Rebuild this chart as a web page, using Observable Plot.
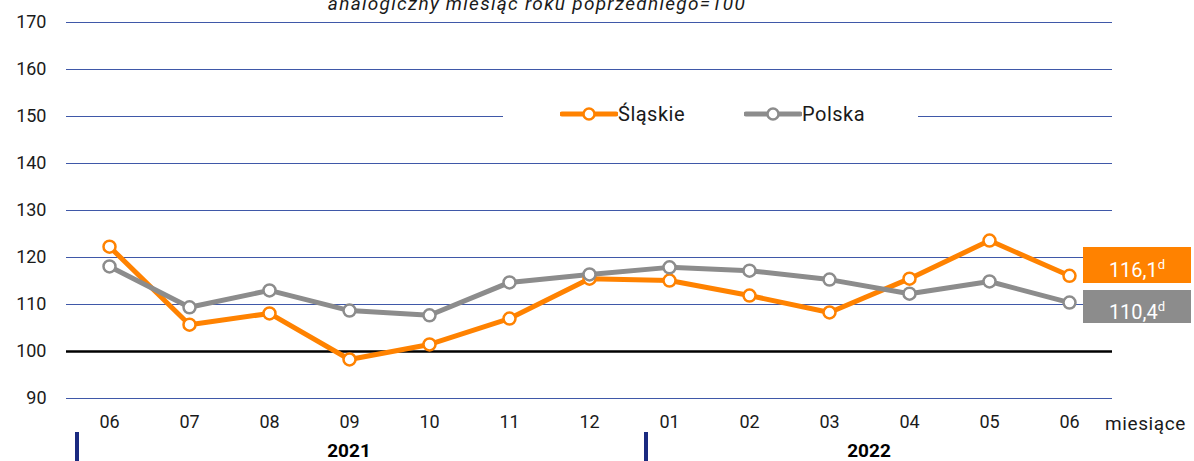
<!DOCTYPE html>
<html><head><meta charset="utf-8">
<script src="https://cdn.jsdelivr.net/npm/d3@7"></script>
<script src="https://cdn.jsdelivr.net/npm/@observablehq/plot@0.6"></script>
<style>
body{margin:0;background:#fff;font-family:Roboto,"Noto Sans",sans-serif;}
#wrap{position:relative;width:1194px;height:461px;overflow:hidden;}
.ov{position:absolute;white-space:nowrap;}
</style></head><body><div id="wrap"></div>
<script>
const months = ["2021-06","2021-07","2021-08","2021-09","2021-10","2021-11","2021-12","2022-01","2022-02","2022-03","2022-04","2022-05","2022-06"];
const slaskie = [122.3,105.7,108.1,98.3,101.5,107.0,115.5,115.1,111.9,108.3,115.5,123.6,116.1];
const polska  = [118.1,109.4,113.0,108.7,107.7,114.7,116.4,117.9,117.2,115.3,112.3,114.9,110.4];
const yTicks = [90,100,110,120,130,140,150,160,170];
const seriesNames = ["Śląskie","Polska"];
const endLabels = ["116,1","110,4"];
const years = ["2021","2022"];
const subtitle = "analogiczny miesiąc roku poprzedniego=100";
const xUnit = "miesiące";

const colors = ["#ff8200","#8c8c8c"];
const data = [slaskie, polska].map(arr => months.map((m,i)=>({m, v: arr[i]})));

const plot = Plot.plot({
  width:1194, height:461,
  marginTop:22, marginBottom:63, marginLeft:66, marginRight:82,
  style:{fontFamily:"Roboto, 'Noto Sans', sans-serif", fontSize:"18px", color:"#1a1a1a", background:"transparent"},
  x:{type:"band", domain:months, padding:0},
  y:{domain:[90,170]},
  marks:[
    Plot.ruleY(yTicks.filter(t=>t!==100), {stroke:"#3f58a8", strokeWidth:1}),
    Plot.ruleY([100], {stroke:"#000", strokeWidth:2.5}),
    ...data.map((d,k)=>Plot.line(d,{x:"m",y:"v",stroke:colors[k],strokeWidth:5})),
    ...data.map((d,k)=>Plot.dot(d,{x:"m",y:"v",r:6,fill:"#fff",stroke:colors[k],strokeWidth:2.5})),
    Plot.axisY({ticks:yTicks, tickSize:0, tickPadding:20, label:null, fontSize:18}),
    Plot.axisX({tickSize:0, tickPadding:17, label:null, tickFormat:d=>d.slice(5), fontSize:18})
  ]
});
const wrap = document.getElementById("wrap");
wrap.appendChild(plot);

const xs = plot.scale("x"), ys = plot.scale("y");
const bw = xs.bandwidth;
const xc = m => xs.apply(m) + bw/2;

function add(html, css){ const d=document.createElement("div"); d.className="ov"; d.innerHTML=html; Object.assign(d.style,css); wrap.appendChild(d); return d; }

// subtitle
add(subtitle,{left:"0",width:"1074px",textAlign:"center",top:"-7px",fontStyle:"italic",fontSize:"19px",letterSpacing:"1.3px",color:"#1a1a1a",lineHeight:"22px"});

// legend
const sw = c => `<svg width="58" height="14" style="vertical-align:middle"><line x1="2" x2="56" y1="7" y2="7" stroke="${c}" stroke-width="5" stroke-linecap="round"/><circle cx="29" cy="7" r="5.5" fill="#fff" stroke="${c}" stroke-width="2.5"/></svg>`;
add(`<span style="position:absolute;left:57px;top:0">${sw(colors[0])}<span style="vertical-align:middle;letter-spacing:0.5px">${seriesNames[0]}</span></span><span style="position:absolute;left:241px;top:0">${sw(colors[1])}<span style="vertical-align:middle;letter-spacing:0.5px">${seriesNames[1]}</span></span>`,
  {left:"503px",width:"415px",height:"26px",top:"99px",background:"#fff",fontSize:"20px",color:"#1a1a1a",lineHeight:"26px"});

// end labels
const last = months[months.length-1];
const offs = [[-28,36],[-12,33]];
[slaskie, polska].forEach((arr,k)=>{
  const v = arr[arr.length-1];
  add(`${endLabels[k]}<sup style="font-size:13px">d</sup>`,{left:(xc(last)+14)+"px",top:(ys.apply(v)+offs[k][0])+"px",width:"108px",height:offs[k][1]+"px",lineHeight:offs[k][1]+"px",background:colors[k],color:"#fff",textAlign:"center",fontSize:"20px"});
});

// x unit
add(xUnit,{left:(xc(last)+36)+"px",top:"412px",fontSize:"19px",letterSpacing:"0.6px",color:"#1a1a1a"});

// years & separators
const y0 = xc(months[3]);
const y1 = (xc(months[9])+xc(months[10]))/2;
add(years[0],{left:(y0-40)+"px",width:"80px",textAlign:"center",top:"439px",fontWeight:"bold",fontSize:"19px",color:"#000"});
add(years[1],{left:(y1-40)+"px",width:"80px",textAlign:"center",top:"439px",fontWeight:"bold",fontSize:"19px",color:"#000"});
[xs.apply(months[0])+6, xs.apply(months[7])+15].forEach(x=>{
  add("",{left:x+"px",top:"432px",width:"4px",height:"30px",background:"#1a2a80"});
});
</script></body></html>
